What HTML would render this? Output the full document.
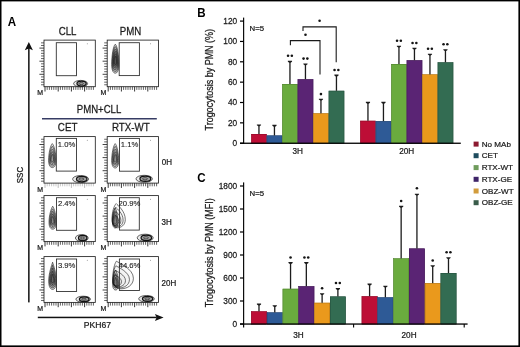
<!DOCTYPE html>
<html><head><meta charset="utf-8"><style>html,body{margin:0;padding:0;background:#fff;overflow:hidden}svg{display:block;will-change:transform}</style></head><body>
<svg width="520" height="347" viewBox="0 0 520 347">
<rect width="520" height="347" fill="#fff"/>
<rect x="0" y="0" width="520" height="1.4" fill="#000"/>
<rect x="0" y="0" width="1.5" height="347" fill="#000"/>
<rect x="518.4" y="0" width="1.6" height="347" fill="#000"/>
<rect x="0" y="345.4" width="520" height="1.6" fill="#000"/>
<text transform="translate(7.70,25.50) scale(1,1.1)" font-size="11.6" font-weight="bold" fill="#000" font-family="Liberation Sans, sans-serif">A</text>
<text transform="translate(67.60,35.00) scale(1,1.17)" font-size="9.7" text-anchor="middle" fill="#1a1a1a" stroke="#1a1a1a" stroke-width="0.22" font-family="Liberation Sans, sans-serif">CLL</text>
<text transform="translate(130.50,35.00) scale(1,1.17)" font-size="9.7" text-anchor="middle" fill="#1a1a1a" stroke="#1a1a1a" stroke-width="0.22" font-family="Liberation Sans, sans-serif">PMN</text>
<text transform="translate(99.00,113.20) scale(1,1.17)" font-size="9.6" text-anchor="middle" fill="#1a1a1a" stroke="#1a1a1a" stroke-width="0.22" font-family="Liberation Sans, sans-serif">PMN+CLL</text>
<rect x="42" y="118" width="114.8" height="1.5" fill="#363c64"/>
<text transform="translate(67.60,131.00) scale(1,1.17)" font-size="9.8" text-anchor="middle" fill="#1a1a1a" stroke="#1a1a1a" stroke-width="0.22" font-family="Liberation Sans, sans-serif">CET</text>
<text transform="translate(130.90,131.00) scale(1,1.17)" font-size="9.8" text-anchor="middle" fill="#1a1a1a" stroke="#1a1a1a" stroke-width="0.22" font-family="Liberation Sans, sans-serif">RTX-WT</text>
<text transform="translate(161.80,165.20) scale(1,1.08)" font-size="8.0" fill="#1a1a1a" stroke="#1a1a1a" stroke-width="0.22" font-family="Liberation Sans, sans-serif">0H</text>
<text transform="translate(161.60,224.50) scale(1,1.08)" font-size="8.0" fill="#1a1a1a" stroke="#1a1a1a" stroke-width="0.22" font-family="Liberation Sans, sans-serif">3H</text>
<text transform="translate(161.60,285.90) scale(1,1.08)" font-size="8.0" fill="#1a1a1a" stroke="#1a1a1a" stroke-width="0.22" font-family="Liberation Sans, sans-serif">20H</text>
<rect x="28.1" y="47" width="1.5" height="255.4" fill="#111"/>
<path d="M28.85 42 L32.9 50.3 L28.85 48.6 L24.8 50.3 Z" fill="#111"/>
<rect x="37.8" y="316.7" width="119" height="1.5" fill="#111"/>
<path d="M163.6 317.45 L154.9 313.9 L156.6 317.45 L154.9 321 Z" fill="#111"/>
<text transform="translate(23.20,175.00) rotate(-90) scale(1,1.17)" font-size="8.0" text-anchor="middle" fill="#1a1a1a" stroke="#1a1a1a" stroke-width="0.22" font-family="Liberation Sans, sans-serif">SSC</text>
<text transform="translate(97.40,328.30) scale(1,1.12)" font-size="8.6" text-anchor="middle" fill="#1a1a1a" stroke="#1a1a1a" stroke-width="0.22" font-family="Liberation Sans, sans-serif">PKH67</text>
<line x1="41.00" y1="84.78" x2="44.00" y2="84.78" stroke="#222" stroke-width="0.7"/>
<line x1="41.00" y1="82.16" x2="44.00" y2="82.16" stroke="#222" stroke-width="0.7"/>
<line x1="41.00" y1="79.54" x2="44.00" y2="79.54" stroke="#222" stroke-width="0.7"/>
<line x1="41.00" y1="76.92" x2="44.00" y2="76.92" stroke="#222" stroke-width="0.7"/>
<line x1="39.40" y1="74.30" x2="44.00" y2="74.30" stroke="#222" stroke-width="0.85"/>
<line x1="41.00" y1="71.68" x2="44.00" y2="71.68" stroke="#222" stroke-width="0.7"/>
<line x1="41.00" y1="69.06" x2="44.00" y2="69.06" stroke="#222" stroke-width="0.7"/>
<line x1="41.00" y1="66.44" x2="44.00" y2="66.44" stroke="#222" stroke-width="0.7"/>
<line x1="41.00" y1="63.82" x2="44.00" y2="63.82" stroke="#222" stroke-width="0.7"/>
<line x1="39.40" y1="61.20" x2="44.00" y2="61.20" stroke="#222" stroke-width="0.85"/>
<line x1="41.00" y1="58.58" x2="44.00" y2="58.58" stroke="#222" stroke-width="0.7"/>
<line x1="41.00" y1="55.96" x2="44.00" y2="55.96" stroke="#222" stroke-width="0.7"/>
<line x1="41.00" y1="53.34" x2="44.00" y2="53.34" stroke="#222" stroke-width="0.7"/>
<line x1="41.00" y1="50.72" x2="44.00" y2="50.72" stroke="#222" stroke-width="0.7"/>
<line x1="39.40" y1="48.10" x2="44.00" y2="48.10" stroke="#222" stroke-width="0.85"/>
<line x1="41.00" y1="45.48" x2="44.00" y2="45.48" stroke="#222" stroke-width="0.7"/>
<line x1="41.00" y1="42.86" x2="44.00" y2="42.86" stroke="#222" stroke-width="0.7"/>
<line x1="45.00" y1="86.70" x2="45.00" y2="91.50" stroke="#222" stroke-width="0.9" stroke-opacity="1.0"/>
<line x1="47.20" y1="86.70" x2="47.20" y2="89.90" stroke="#222" stroke-width="0.7" stroke-opacity="1.0"/>
<line x1="49.40" y1="86.70" x2="49.40" y2="89.90" stroke="#222" stroke-width="0.7" stroke-opacity="1.0"/>
<line x1="51.60" y1="86.70" x2="51.60" y2="89.90" stroke="#222" stroke-width="0.7" stroke-opacity="1.0"/>
<line x1="53.80" y1="86.70" x2="53.80" y2="89.90" stroke="#222" stroke-width="0.7" stroke-opacity="1.0"/>
<line x1="56.00" y1="86.70" x2="56.00" y2="89.90" stroke="#222" stroke-width="0.7" stroke-opacity="1.0"/>
<line x1="58.20" y1="86.70" x2="58.20" y2="91.50" stroke="#222" stroke-width="0.9" stroke-opacity="1.0"/>
<line x1="60.40" y1="86.70" x2="60.40" y2="89.90" stroke="#222" stroke-width="0.7" stroke-opacity="1.0"/>
<line x1="62.60" y1="86.70" x2="62.60" y2="89.90" stroke="#222" stroke-width="0.7" stroke-opacity="1.0"/>
<line x1="64.80" y1="86.70" x2="64.80" y2="89.90" stroke="#222" stroke-width="0.7" stroke-opacity="1.0"/>
<line x1="67.00" y1="86.70" x2="67.00" y2="89.90" stroke="#222" stroke-width="0.7" stroke-opacity="1.0"/>
<line x1="69.20" y1="86.70" x2="69.20" y2="89.90" stroke="#222" stroke-width="0.7" stroke-opacity="1.0"/>
<line x1="71.40" y1="86.70" x2="71.40" y2="91.50" stroke="#222" stroke-width="0.9" stroke-opacity="1.0"/>
<line x1="73.60" y1="86.70" x2="73.60" y2="89.90" stroke="#222" stroke-width="0.7" stroke-opacity="1.0"/>
<line x1="75.80" y1="86.70" x2="75.80" y2="89.90" stroke="#222" stroke-width="0.7" stroke-opacity="1.0"/>
<line x1="78.00" y1="86.70" x2="78.00" y2="89.90" stroke="#222" stroke-width="0.7" stroke-opacity="1.0"/>
<line x1="80.20" y1="86.70" x2="80.20" y2="89.90" stroke="#222" stroke-width="0.7" stroke-opacity="1.0"/>
<line x1="82.40" y1="86.70" x2="82.40" y2="89.90" stroke="#222" stroke-width="0.7" stroke-opacity="1.0"/>
<line x1="84.60" y1="86.70" x2="84.60" y2="91.50" stroke="#222" stroke-width="0.9" stroke-opacity="1.0"/>
<line x1="86.80" y1="86.70" x2="86.80" y2="89.90" stroke="#222" stroke-width="0.7" stroke-opacity="1.0"/>
<line x1="89.00" y1="86.70" x2="89.00" y2="89.90" stroke="#222" stroke-width="0.7" stroke-opacity="1.0"/>
<line x1="91.20" y1="86.70" x2="91.20" y2="89.90" stroke="#222" stroke-width="0.7" stroke-opacity="1.0"/>
<line x1="93.40" y1="86.70" x2="93.40" y2="89.90" stroke="#222" stroke-width="0.7" stroke-opacity="1.0"/>
<rect x="44.00" y="40.10" width="51.30" height="46.60" fill="none" stroke="#222" stroke-width="0.85"/>
<circle cx="87.30" cy="43.70" r="0.5" fill="#888"/>
<ellipse cx="80.60" cy="83.60" rx="7.00" ry="3.20" fill="#000" fill-opacity="0.08" stroke="#222" stroke-width="0.7"/><ellipse cx="81.58" cy="83.60" rx="4.62" ry="2.43" fill="#000" fill-opacity="0.3" stroke="#111" stroke-width="1.25"/><ellipse cx="81.30" cy="83.60" rx="2.10" ry="1.02" fill="none" stroke="#333" stroke-width="0.8"/>
<rect x="56.30" y="42.70" width="20.20" height="33.00" fill="none" stroke="#333" stroke-width="0.9"/>
<text transform="translate(37.20,95.20) scale(1,1.1)" font-size="7.0" fill="#1a1a1a" stroke="#1a1a1a" stroke-width="0.22" font-family="Liberation Sans, sans-serif">M</text>
<line x1="104.20" y1="84.78" x2="107.20" y2="84.78" stroke="#222" stroke-width="0.7"/>
<line x1="104.20" y1="82.16" x2="107.20" y2="82.16" stroke="#222" stroke-width="0.7"/>
<line x1="104.20" y1="79.54" x2="107.20" y2="79.54" stroke="#222" stroke-width="0.7"/>
<line x1="104.20" y1="76.92" x2="107.20" y2="76.92" stroke="#222" stroke-width="0.7"/>
<line x1="102.60" y1="74.30" x2="107.20" y2="74.30" stroke="#222" stroke-width="0.85"/>
<line x1="104.20" y1="71.68" x2="107.20" y2="71.68" stroke="#222" stroke-width="0.7"/>
<line x1="104.20" y1="69.06" x2="107.20" y2="69.06" stroke="#222" stroke-width="0.7"/>
<line x1="104.20" y1="66.44" x2="107.20" y2="66.44" stroke="#222" stroke-width="0.7"/>
<line x1="104.20" y1="63.82" x2="107.20" y2="63.82" stroke="#222" stroke-width="0.7"/>
<line x1="102.60" y1="61.20" x2="107.20" y2="61.20" stroke="#222" stroke-width="0.85"/>
<line x1="104.20" y1="58.58" x2="107.20" y2="58.58" stroke="#222" stroke-width="0.7"/>
<line x1="104.20" y1="55.96" x2="107.20" y2="55.96" stroke="#222" stroke-width="0.7"/>
<line x1="104.20" y1="53.34" x2="107.20" y2="53.34" stroke="#222" stroke-width="0.7"/>
<line x1="104.20" y1="50.72" x2="107.20" y2="50.72" stroke="#222" stroke-width="0.7"/>
<line x1="102.60" y1="48.10" x2="107.20" y2="48.10" stroke="#222" stroke-width="0.85"/>
<line x1="104.20" y1="45.48" x2="107.20" y2="45.48" stroke="#222" stroke-width="0.7"/>
<line x1="104.20" y1="42.86" x2="107.20" y2="42.86" stroke="#222" stroke-width="0.7"/>
<line x1="108.20" y1="86.70" x2="108.20" y2="91.50" stroke="#222" stroke-width="0.9" stroke-opacity="1.0"/>
<line x1="110.40" y1="86.70" x2="110.40" y2="89.90" stroke="#222" stroke-width="0.7" stroke-opacity="1.0"/>
<line x1="112.60" y1="86.70" x2="112.60" y2="89.90" stroke="#222" stroke-width="0.7" stroke-opacity="1.0"/>
<line x1="114.80" y1="86.70" x2="114.80" y2="89.90" stroke="#222" stroke-width="0.7" stroke-opacity="1.0"/>
<line x1="117.00" y1="86.70" x2="117.00" y2="89.90" stroke="#222" stroke-width="0.7" stroke-opacity="1.0"/>
<line x1="119.20" y1="86.70" x2="119.20" y2="89.90" stroke="#222" stroke-width="0.7" stroke-opacity="1.0"/>
<line x1="121.40" y1="86.70" x2="121.40" y2="91.50" stroke="#222" stroke-width="0.9" stroke-opacity="1.0"/>
<line x1="123.60" y1="86.70" x2="123.60" y2="89.90" stroke="#222" stroke-width="0.7" stroke-opacity="1.0"/>
<line x1="125.80" y1="86.70" x2="125.80" y2="89.90" stroke="#222" stroke-width="0.7" stroke-opacity="1.0"/>
<line x1="128.00" y1="86.70" x2="128.00" y2="89.90" stroke="#222" stroke-width="0.7" stroke-opacity="1.0"/>
<line x1="130.20" y1="86.70" x2="130.20" y2="89.90" stroke="#222" stroke-width="0.7" stroke-opacity="1.0"/>
<line x1="132.40" y1="86.70" x2="132.40" y2="89.90" stroke="#222" stroke-width="0.7" stroke-opacity="1.0"/>
<line x1="134.60" y1="86.70" x2="134.60" y2="91.50" stroke="#222" stroke-width="0.9" stroke-opacity="1.0"/>
<line x1="136.80" y1="86.70" x2="136.80" y2="89.90" stroke="#222" stroke-width="0.7" stroke-opacity="1.0"/>
<line x1="139.00" y1="86.70" x2="139.00" y2="89.90" stroke="#222" stroke-width="0.7" stroke-opacity="1.0"/>
<line x1="141.20" y1="86.70" x2="141.20" y2="89.90" stroke="#222" stroke-width="0.7" stroke-opacity="1.0"/>
<line x1="143.40" y1="86.70" x2="143.40" y2="89.90" stroke="#222" stroke-width="0.7" stroke-opacity="1.0"/>
<line x1="145.60" y1="86.70" x2="145.60" y2="89.90" stroke="#222" stroke-width="0.7" stroke-opacity="1.0"/>
<line x1="147.80" y1="86.70" x2="147.80" y2="91.50" stroke="#222" stroke-width="0.9" stroke-opacity="1.0"/>
<line x1="150.00" y1="86.70" x2="150.00" y2="89.90" stroke="#222" stroke-width="0.7" stroke-opacity="1.0"/>
<line x1="152.20" y1="86.70" x2="152.20" y2="89.90" stroke="#222" stroke-width="0.7" stroke-opacity="1.0"/>
<line x1="154.40" y1="86.70" x2="154.40" y2="89.90" stroke="#222" stroke-width="0.7" stroke-opacity="1.0"/>
<line x1="156.60" y1="86.70" x2="156.60" y2="89.90" stroke="#222" stroke-width="0.7" stroke-opacity="1.0"/>
<rect x="107.20" y="40.10" width="51.30" height="46.60" fill="none" stroke="#222" stroke-width="0.85"/>
<circle cx="150.50" cy="43.70" r="0.5" fill="#888"/>
<path d="M115.30 44.20 C117.46 45.94 118.90 55.80 118.90 64.50 C118.90 70.88 117.10 73.20 115.30 73.20 C113.50 73.20 111.70 70.88 111.70 64.50 C111.70 55.80 113.14 45.94 115.30 44.20Z" fill="#000" fill-opacity="0.158" stroke="#1a1a1a" stroke-width="0.6"/><path d="M115.30 46.58 C117.15 48.08 118.39 56.54 118.39 64.01 C118.39 69.48 116.84 71.47 115.30 71.47 C113.75 71.47 112.21 69.48 112.21 64.01 C112.21 56.54 113.45 48.08 115.30 46.58Z" fill="#000" fill-opacity="0.158" stroke="#1a1a1a" stroke-width="0.6"/><path d="M115.30 48.97 C116.85 50.21 117.88 57.28 117.88 63.51 C117.88 68.09 116.59 69.75 115.30 69.75 C114.01 69.75 112.72 68.09 112.72 63.51 C112.72 57.28 113.75 50.21 115.30 48.97Z" fill="#000" fill-opacity="0.158" stroke="#1a1a1a" stroke-width="0.6"/><path d="M115.30 51.35 C116.54 52.35 117.37 58.02 117.37 63.02 C117.37 66.69 116.33 68.02 115.30 68.02 C114.27 68.02 113.23 66.69 113.23 63.02 C113.23 58.02 114.06 52.35 115.30 51.35Z" fill="#000" fill-opacity="0.158" stroke="#1a1a1a" stroke-width="0.6"/><path d="M115.30 53.73 C116.24 54.49 116.86 58.76 116.86 62.53 C116.86 65.29 116.08 66.30 115.30 66.30 C114.52 66.30 113.74 65.29 113.74 62.53 C113.74 58.76 114.36 54.49 115.30 53.73Z" fill="#000" fill-opacity="0.158" stroke="#1a1a1a" stroke-width="0.6"/><path d="M115.30 56.11 C115.93 56.62 116.35 59.50 116.35 62.04 C116.35 63.90 115.83 64.57 115.30 64.57 C114.77 64.57 114.25 63.90 114.25 62.04 C114.25 59.50 114.67 56.62 115.30 56.11Z" fill="#000" fill-opacity="0.158" stroke="#1a1a1a" stroke-width="0.6"/>
<rect x="119.20" y="42.70" width="20.20" height="32.90" fill="none" stroke="#333" stroke-width="0.9"/>
<text transform="translate(100.40,95.20) scale(1,1.1)" font-size="7.0" fill="#1a1a1a" stroke="#1a1a1a" stroke-width="0.22" font-family="Liberation Sans, sans-serif">M</text>
<line x1="41.00" y1="181.18" x2="44.00" y2="181.18" stroke="#222" stroke-width="0.7"/>
<line x1="41.00" y1="178.56" x2="44.00" y2="178.56" stroke="#222" stroke-width="0.7"/>
<line x1="41.00" y1="175.94" x2="44.00" y2="175.94" stroke="#222" stroke-width="0.7"/>
<line x1="41.00" y1="173.32" x2="44.00" y2="173.32" stroke="#222" stroke-width="0.7"/>
<line x1="39.40" y1="170.70" x2="44.00" y2="170.70" stroke="#222" stroke-width="0.85"/>
<line x1="41.00" y1="168.08" x2="44.00" y2="168.08" stroke="#222" stroke-width="0.7"/>
<line x1="41.00" y1="165.46" x2="44.00" y2="165.46" stroke="#222" stroke-width="0.7"/>
<line x1="41.00" y1="162.84" x2="44.00" y2="162.84" stroke="#222" stroke-width="0.7"/>
<line x1="41.00" y1="160.22" x2="44.00" y2="160.22" stroke="#222" stroke-width="0.7"/>
<line x1="39.40" y1="157.60" x2="44.00" y2="157.60" stroke="#222" stroke-width="0.85"/>
<line x1="41.00" y1="154.98" x2="44.00" y2="154.98" stroke="#222" stroke-width="0.7"/>
<line x1="41.00" y1="152.36" x2="44.00" y2="152.36" stroke="#222" stroke-width="0.7"/>
<line x1="41.00" y1="149.74" x2="44.00" y2="149.74" stroke="#222" stroke-width="0.7"/>
<line x1="41.00" y1="147.12" x2="44.00" y2="147.12" stroke="#222" stroke-width="0.7"/>
<line x1="39.40" y1="144.50" x2="44.00" y2="144.50" stroke="#222" stroke-width="0.85"/>
<line x1="41.00" y1="141.88" x2="44.00" y2="141.88" stroke="#222" stroke-width="0.7"/>
<line x1="41.00" y1="139.26" x2="44.00" y2="139.26" stroke="#222" stroke-width="0.7"/>
<line x1="45.00" y1="183.10" x2="45.00" y2="187.90" stroke="#222" stroke-width="0.9" stroke-opacity="0.35"/>
<line x1="47.20" y1="183.10" x2="47.20" y2="186.30" stroke="#222" stroke-width="0.7" stroke-opacity="0.35"/>
<line x1="49.40" y1="183.10" x2="49.40" y2="186.30" stroke="#222" stroke-width="0.7" stroke-opacity="0.35"/>
<line x1="51.60" y1="183.10" x2="51.60" y2="186.30" stroke="#222" stroke-width="0.7" stroke-opacity="0.35"/>
<line x1="53.80" y1="183.10" x2="53.80" y2="186.30" stroke="#222" stroke-width="0.7" stroke-opacity="0.35"/>
<line x1="56.00" y1="183.10" x2="56.00" y2="186.30" stroke="#222" stroke-width="0.7" stroke-opacity="0.35"/>
<line x1="58.20" y1="183.10" x2="58.20" y2="187.90" stroke="#222" stroke-width="0.9" stroke-opacity="0.35"/>
<line x1="60.40" y1="183.10" x2="60.40" y2="186.30" stroke="#222" stroke-width="0.7" stroke-opacity="0.35"/>
<line x1="62.60" y1="183.10" x2="62.60" y2="186.30" stroke="#222" stroke-width="0.7" stroke-opacity="0.35"/>
<line x1="64.80" y1="183.10" x2="64.80" y2="186.30" stroke="#222" stroke-width="0.7" stroke-opacity="0.35"/>
<line x1="67.00" y1="183.10" x2="67.00" y2="186.30" stroke="#222" stroke-width="0.7" stroke-opacity="0.35"/>
<line x1="69.20" y1="183.10" x2="69.20" y2="186.30" stroke="#222" stroke-width="0.7" stroke-opacity="0.35"/>
<line x1="71.40" y1="183.10" x2="71.40" y2="187.90" stroke="#222" stroke-width="0.9" stroke-opacity="0.35"/>
<line x1="73.60" y1="183.10" x2="73.60" y2="186.30" stroke="#222" stroke-width="0.7" stroke-opacity="0.35"/>
<line x1="75.80" y1="183.10" x2="75.80" y2="186.30" stroke="#222" stroke-width="0.7" stroke-opacity="0.35"/>
<line x1="78.00" y1="183.10" x2="78.00" y2="186.30" stroke="#222" stroke-width="0.7" stroke-opacity="0.35"/>
<line x1="80.20" y1="183.10" x2="80.20" y2="186.30" stroke="#222" stroke-width="0.7" stroke-opacity="0.35"/>
<line x1="82.40" y1="183.10" x2="82.40" y2="186.30" stroke="#222" stroke-width="0.7" stroke-opacity="0.35"/>
<line x1="84.60" y1="183.10" x2="84.60" y2="187.90" stroke="#222" stroke-width="0.9" stroke-opacity="0.35"/>
<line x1="86.80" y1="183.10" x2="86.80" y2="186.30" stroke="#222" stroke-width="0.7" stroke-opacity="0.35"/>
<line x1="89.00" y1="183.10" x2="89.00" y2="186.30" stroke="#222" stroke-width="0.7" stroke-opacity="0.35"/>
<line x1="91.20" y1="183.10" x2="91.20" y2="186.30" stroke="#222" stroke-width="0.7" stroke-opacity="0.35"/>
<line x1="93.40" y1="183.10" x2="93.40" y2="186.30" stroke="#222" stroke-width="0.7" stroke-opacity="0.35"/>
<rect x="44.00" y="136.60" width="51.30" height="46.50" fill="none" stroke="#222" stroke-width="0.85"/>
<circle cx="87.30" cy="140.20" r="0.5" fill="#888"/>
<path d="M52.30 143.60 C54.19 145.40 56.00 153.20 56.00 160.40 C56.00 165.68 54.15 167.60 52.30 167.60 C50.45 167.60 48.60 165.68 48.60 160.40 C48.60 153.20 50.41 145.40 52.30 143.60Z" fill="#000" fill-opacity="0.090" stroke="#1a1a1a" stroke-width="0.6"/><path d="M52.30 146.25 C53.87 147.75 55.37 154.22 55.37 160.20 C55.37 164.58 53.84 166.17 52.30 166.17 C50.76 166.17 49.23 164.58 49.23 160.20 C49.23 154.22 50.73 147.75 52.30 146.25Z" fill="#000" fill-opacity="0.090" stroke="#1a1a1a" stroke-width="0.6"/><path d="M52.30 148.90 C53.55 150.09 54.74 155.24 54.74 159.99 C54.74 163.48 53.52 164.74 52.30 164.74 C51.08 164.74 49.86 163.48 49.86 159.99 C49.86 155.24 51.05 150.09 52.30 148.90Z" fill="#000" fill-opacity="0.090" stroke="#1a1a1a" stroke-width="0.6"/><path d="M52.30 151.56 C53.22 152.44 54.11 156.26 54.11 159.79 C54.11 162.38 53.21 163.32 52.30 163.32 C51.39 163.32 50.49 162.38 50.49 159.79 C50.49 156.26 51.38 152.44 52.30 151.56Z" fill="#000" fill-opacity="0.090" stroke="#1a1a1a" stroke-width="0.6"/><path d="M52.30 154.21 C52.90 154.78 53.48 157.28 53.48 159.58 C53.48 161.27 52.89 161.89 52.30 161.89 C51.71 161.89 51.12 161.27 51.12 159.58 C51.12 157.28 51.70 154.78 52.30 154.21Z" fill="#000" fill-opacity="0.090" stroke="#1a1a1a" stroke-width="0.6"/>
<ellipse cx="80.60" cy="179.10" rx="8.00" ry="3.60" fill="#000" fill-opacity="0.08" stroke="#222" stroke-width="0.7"/><ellipse cx="81.72" cy="179.10" rx="5.28" ry="2.74" fill="#000" fill-opacity="0.3" stroke="#111" stroke-width="1.25"/><ellipse cx="81.40" cy="179.10" rx="2.40" ry="1.15" fill="none" stroke="#333" stroke-width="0.8"/>
<rect x="56.30" y="138.40" width="20.20" height="32.70" fill="none" stroke="#333" stroke-width="0.9"/>
<text transform="translate(66.50,146.90)" font-size="7.7" text-anchor="middle" fill="#1a1a1a" stroke="#1a1a1a" stroke-width="0.1" font-family="Liberation Sans, sans-serif">1.0%</text>
<text transform="translate(37.20,191.60) scale(1,1.1)" font-size="7.0" fill="#1a1a1a" stroke="#1a1a1a" stroke-width="0.22" font-family="Liberation Sans, sans-serif">M</text>
<line x1="104.20" y1="181.18" x2="107.20" y2="181.18" stroke="#222" stroke-width="0.7"/>
<line x1="104.20" y1="178.56" x2="107.20" y2="178.56" stroke="#222" stroke-width="0.7"/>
<line x1="104.20" y1="175.94" x2="107.20" y2="175.94" stroke="#222" stroke-width="0.7"/>
<line x1="104.20" y1="173.32" x2="107.20" y2="173.32" stroke="#222" stroke-width="0.7"/>
<line x1="102.60" y1="170.70" x2="107.20" y2="170.70" stroke="#222" stroke-width="0.85"/>
<line x1="104.20" y1="168.08" x2="107.20" y2="168.08" stroke="#222" stroke-width="0.7"/>
<line x1="104.20" y1="165.46" x2="107.20" y2="165.46" stroke="#222" stroke-width="0.7"/>
<line x1="104.20" y1="162.84" x2="107.20" y2="162.84" stroke="#222" stroke-width="0.7"/>
<line x1="104.20" y1="160.22" x2="107.20" y2="160.22" stroke="#222" stroke-width="0.7"/>
<line x1="102.60" y1="157.60" x2="107.20" y2="157.60" stroke="#222" stroke-width="0.85"/>
<line x1="104.20" y1="154.98" x2="107.20" y2="154.98" stroke="#222" stroke-width="0.7"/>
<line x1="104.20" y1="152.36" x2="107.20" y2="152.36" stroke="#222" stroke-width="0.7"/>
<line x1="104.20" y1="149.74" x2="107.20" y2="149.74" stroke="#222" stroke-width="0.7"/>
<line x1="104.20" y1="147.12" x2="107.20" y2="147.12" stroke="#222" stroke-width="0.7"/>
<line x1="102.60" y1="144.50" x2="107.20" y2="144.50" stroke="#222" stroke-width="0.85"/>
<line x1="104.20" y1="141.88" x2="107.20" y2="141.88" stroke="#222" stroke-width="0.7"/>
<line x1="104.20" y1="139.26" x2="107.20" y2="139.26" stroke="#222" stroke-width="0.7"/>
<line x1="108.20" y1="183.10" x2="108.20" y2="187.90" stroke="#222" stroke-width="0.9" stroke-opacity="1.0"/>
<line x1="110.40" y1="183.10" x2="110.40" y2="186.30" stroke="#222" stroke-width="0.7" stroke-opacity="1.0"/>
<line x1="112.60" y1="183.10" x2="112.60" y2="186.30" stroke="#222" stroke-width="0.7" stroke-opacity="1.0"/>
<line x1="114.80" y1="183.10" x2="114.80" y2="186.30" stroke="#222" stroke-width="0.7" stroke-opacity="1.0"/>
<line x1="117.00" y1="183.10" x2="117.00" y2="186.30" stroke="#222" stroke-width="0.7" stroke-opacity="1.0"/>
<line x1="119.20" y1="183.10" x2="119.20" y2="186.30" stroke="#222" stroke-width="0.7" stroke-opacity="1.0"/>
<line x1="121.40" y1="183.10" x2="121.40" y2="187.90" stroke="#222" stroke-width="0.9" stroke-opacity="1.0"/>
<line x1="123.60" y1="183.10" x2="123.60" y2="186.30" stroke="#222" stroke-width="0.7" stroke-opacity="1.0"/>
<line x1="125.80" y1="183.10" x2="125.80" y2="186.30" stroke="#222" stroke-width="0.7" stroke-opacity="1.0"/>
<line x1="128.00" y1="183.10" x2="128.00" y2="186.30" stroke="#222" stroke-width="0.7" stroke-opacity="1.0"/>
<line x1="130.20" y1="183.10" x2="130.20" y2="186.30" stroke="#222" stroke-width="0.7" stroke-opacity="1.0"/>
<line x1="132.40" y1="183.10" x2="132.40" y2="186.30" stroke="#222" stroke-width="0.7" stroke-opacity="1.0"/>
<line x1="134.60" y1="183.10" x2="134.60" y2="187.90" stroke="#222" stroke-width="0.9" stroke-opacity="1.0"/>
<line x1="136.80" y1="183.10" x2="136.80" y2="186.30" stroke="#222" stroke-width="0.7" stroke-opacity="1.0"/>
<line x1="139.00" y1="183.10" x2="139.00" y2="186.30" stroke="#222" stroke-width="0.7" stroke-opacity="1.0"/>
<line x1="141.20" y1="183.10" x2="141.20" y2="186.30" stroke="#222" stroke-width="0.7" stroke-opacity="1.0"/>
<line x1="143.40" y1="183.10" x2="143.40" y2="186.30" stroke="#222" stroke-width="0.7" stroke-opacity="1.0"/>
<line x1="145.60" y1="183.10" x2="145.60" y2="186.30" stroke="#222" stroke-width="0.7" stroke-opacity="1.0"/>
<line x1="147.80" y1="183.10" x2="147.80" y2="187.90" stroke="#222" stroke-width="0.9" stroke-opacity="1.0"/>
<line x1="150.00" y1="183.10" x2="150.00" y2="186.30" stroke="#222" stroke-width="0.7" stroke-opacity="1.0"/>
<line x1="152.20" y1="183.10" x2="152.20" y2="186.30" stroke="#222" stroke-width="0.7" stroke-opacity="1.0"/>
<line x1="154.40" y1="183.10" x2="154.40" y2="186.30" stroke="#222" stroke-width="0.7" stroke-opacity="1.0"/>
<line x1="156.60" y1="183.10" x2="156.60" y2="186.30" stroke="#222" stroke-width="0.7" stroke-opacity="1.0"/>
<rect x="107.20" y="136.60" width="51.30" height="46.50" fill="none" stroke="#222" stroke-width="0.85"/>
<circle cx="150.50" cy="140.20" r="0.5" fill="#888"/>
<path d="M115.20 143.60 C116.98 145.43 118.70 153.36 118.70 160.68 C118.70 166.05 116.95 168.00 115.20 168.00 C113.45 168.00 111.70 166.05 111.70 160.68 C111.70 153.36 113.42 145.43 115.20 143.60Z" fill="#000" fill-opacity="0.090" stroke="#1a1a1a" stroke-width="0.6"/><path d="M115.20 146.30 C116.68 147.82 118.11 154.40 118.11 160.47 C118.11 164.93 116.65 166.55 115.20 166.55 C113.75 166.55 112.30 164.93 112.30 160.47 C112.30 154.40 113.72 147.82 115.20 146.30Z" fill="#000" fill-opacity="0.090" stroke="#1a1a1a" stroke-width="0.6"/><path d="M115.20 148.99 C116.38 150.20 117.51 155.43 117.51 160.27 C117.51 163.81 116.36 165.10 115.20 165.10 C114.05 165.10 112.89 163.81 112.89 160.27 C112.89 155.43 114.02 150.20 115.20 148.99Z" fill="#000" fill-opacity="0.090" stroke="#1a1a1a" stroke-width="0.6"/><path d="M115.20 151.69 C116.07 152.59 116.92 156.47 116.92 160.06 C116.92 162.69 116.06 163.64 115.20 163.64 C114.34 163.64 113.48 162.69 113.48 160.06 C113.48 156.47 114.33 152.59 115.20 151.69Z" fill="#000" fill-opacity="0.090" stroke="#1a1a1a" stroke-width="0.6"/><path d="M115.20 154.38 C115.77 154.97 116.32 157.51 116.32 159.85 C116.32 161.57 115.76 162.19 115.20 162.19 C114.64 162.19 114.08 161.57 114.08 159.85 C114.08 157.51 114.63 154.97 115.20 154.38Z" fill="#000" fill-opacity="0.090" stroke="#1a1a1a" stroke-width="0.6"/>
<ellipse cx="144.20" cy="178.80" rx="8.20" ry="3.50" fill="#000" fill-opacity="0.08" stroke="#222" stroke-width="0.7"/><ellipse cx="145.35" cy="178.80" rx="5.41" ry="2.66" fill="#000" fill-opacity="0.3" stroke="#111" stroke-width="1.25"/><ellipse cx="145.02" cy="178.80" rx="2.46" ry="1.12" fill="none" stroke="#333" stroke-width="0.8"/>
<rect x="119.50" y="138.40" width="19.90" height="32.80" fill="none" stroke="#333" stroke-width="0.9"/>
<text transform="translate(129.55,146.90)" font-size="7.7" text-anchor="middle" fill="#1a1a1a" stroke="#1a1a1a" stroke-width="0.1" font-family="Liberation Sans, sans-serif">1.1%</text>
<text transform="translate(100.40,191.60) scale(1,1.1)" font-size="7.0" fill="#1a1a1a" stroke="#1a1a1a" stroke-width="0.22" font-family="Liberation Sans, sans-serif">M</text>
<line x1="41.00" y1="239.68" x2="44.00" y2="239.68" stroke="#222" stroke-width="0.7"/>
<line x1="41.00" y1="237.06" x2="44.00" y2="237.06" stroke="#222" stroke-width="0.7"/>
<line x1="41.00" y1="234.44" x2="44.00" y2="234.44" stroke="#222" stroke-width="0.7"/>
<line x1="41.00" y1="231.82" x2="44.00" y2="231.82" stroke="#222" stroke-width="0.7"/>
<line x1="39.40" y1="229.20" x2="44.00" y2="229.20" stroke="#222" stroke-width="0.85"/>
<line x1="41.00" y1="226.58" x2="44.00" y2="226.58" stroke="#222" stroke-width="0.7"/>
<line x1="41.00" y1="223.96" x2="44.00" y2="223.96" stroke="#222" stroke-width="0.7"/>
<line x1="41.00" y1="221.34" x2="44.00" y2="221.34" stroke="#222" stroke-width="0.7"/>
<line x1="41.00" y1="218.72" x2="44.00" y2="218.72" stroke="#222" stroke-width="0.7"/>
<line x1="39.40" y1="216.10" x2="44.00" y2="216.10" stroke="#222" stroke-width="0.85"/>
<line x1="41.00" y1="213.48" x2="44.00" y2="213.48" stroke="#222" stroke-width="0.7"/>
<line x1="41.00" y1="210.86" x2="44.00" y2="210.86" stroke="#222" stroke-width="0.7"/>
<line x1="41.00" y1="208.24" x2="44.00" y2="208.24" stroke="#222" stroke-width="0.7"/>
<line x1="41.00" y1="205.62" x2="44.00" y2="205.62" stroke="#222" stroke-width="0.7"/>
<line x1="39.40" y1="203.00" x2="44.00" y2="203.00" stroke="#222" stroke-width="0.85"/>
<line x1="41.00" y1="200.38" x2="44.00" y2="200.38" stroke="#222" stroke-width="0.7"/>
<line x1="41.00" y1="197.76" x2="44.00" y2="197.76" stroke="#222" stroke-width="0.7"/>
<line x1="45.00" y1="241.60" x2="45.00" y2="246.40" stroke="#222" stroke-width="0.9" stroke-opacity="1.0"/>
<line x1="47.20" y1="241.60" x2="47.20" y2="244.80" stroke="#222" stroke-width="0.7" stroke-opacity="1.0"/>
<line x1="49.40" y1="241.60" x2="49.40" y2="244.80" stroke="#222" stroke-width="0.7" stroke-opacity="1.0"/>
<line x1="51.60" y1="241.60" x2="51.60" y2="244.80" stroke="#222" stroke-width="0.7" stroke-opacity="1.0"/>
<line x1="53.80" y1="241.60" x2="53.80" y2="244.80" stroke="#222" stroke-width="0.7" stroke-opacity="1.0"/>
<line x1="56.00" y1="241.60" x2="56.00" y2="244.80" stroke="#222" stroke-width="0.7" stroke-opacity="1.0"/>
<line x1="58.20" y1="241.60" x2="58.20" y2="246.40" stroke="#222" stroke-width="0.9" stroke-opacity="1.0"/>
<line x1="60.40" y1="241.60" x2="60.40" y2="244.80" stroke="#222" stroke-width="0.7" stroke-opacity="1.0"/>
<line x1="62.60" y1="241.60" x2="62.60" y2="244.80" stroke="#222" stroke-width="0.7" stroke-opacity="1.0"/>
<line x1="64.80" y1="241.60" x2="64.80" y2="244.80" stroke="#222" stroke-width="0.7" stroke-opacity="1.0"/>
<line x1="67.00" y1="241.60" x2="67.00" y2="244.80" stroke="#222" stroke-width="0.7" stroke-opacity="1.0"/>
<line x1="69.20" y1="241.60" x2="69.20" y2="244.80" stroke="#222" stroke-width="0.7" stroke-opacity="1.0"/>
<line x1="71.40" y1="241.60" x2="71.40" y2="246.40" stroke="#222" stroke-width="0.9" stroke-opacity="1.0"/>
<line x1="73.60" y1="241.60" x2="73.60" y2="244.80" stroke="#222" stroke-width="0.7" stroke-opacity="1.0"/>
<line x1="75.80" y1="241.60" x2="75.80" y2="244.80" stroke="#222" stroke-width="0.7" stroke-opacity="1.0"/>
<line x1="78.00" y1="241.60" x2="78.00" y2="244.80" stroke="#222" stroke-width="0.7" stroke-opacity="1.0"/>
<line x1="80.20" y1="241.60" x2="80.20" y2="244.80" stroke="#222" stroke-width="0.7" stroke-opacity="1.0"/>
<line x1="82.40" y1="241.60" x2="82.40" y2="244.80" stroke="#222" stroke-width="0.7" stroke-opacity="1.0"/>
<line x1="84.60" y1="241.60" x2="84.60" y2="246.40" stroke="#222" stroke-width="0.9" stroke-opacity="1.0"/>
<line x1="86.80" y1="241.60" x2="86.80" y2="244.80" stroke="#222" stroke-width="0.7" stroke-opacity="1.0"/>
<line x1="89.00" y1="241.60" x2="89.00" y2="244.80" stroke="#222" stroke-width="0.7" stroke-opacity="1.0"/>
<line x1="91.20" y1="241.60" x2="91.20" y2="244.80" stroke="#222" stroke-width="0.7" stroke-opacity="1.0"/>
<line x1="93.40" y1="241.60" x2="93.40" y2="244.80" stroke="#222" stroke-width="0.7" stroke-opacity="1.0"/>
<rect x="44.00" y="195.60" width="51.30" height="46.00" fill="none" stroke="#222" stroke-width="0.85"/>
<circle cx="87.30" cy="199.20" r="0.5" fill="#888"/>
<path d="M52.70 206.20 C54.25 208.27 56.40 215.40 56.40 222.30 C56.40 227.36 54.55 229.20 52.70 229.20 C50.85 229.20 49.00 227.36 49.00 222.30 C49.00 215.40 51.15 208.27 52.70 206.20Z" fill="#000" fill-opacity="0.110" stroke="#1a1a1a" stroke-width="0.6"/><path d="M52.70 208.74 C53.99 210.46 55.77 216.38 55.77 222.10 C55.77 226.30 54.24 227.83 52.70 227.83 C51.16 227.83 49.63 226.30 49.63 222.10 C49.63 216.38 51.41 210.46 52.70 208.74Z" fill="#000" fill-opacity="0.110" stroke="#1a1a1a" stroke-width="0.6"/><path d="M52.70 211.28 C53.73 212.65 55.14 217.35 55.14 221.91 C55.14 225.25 53.92 226.46 52.70 226.46 C51.48 226.46 50.26 225.25 50.26 221.91 C50.26 217.35 51.67 212.65 52.70 211.28Z" fill="#000" fill-opacity="0.110" stroke="#1a1a1a" stroke-width="0.6"/><path d="M52.70 213.82 C53.46 214.84 54.51 218.33 54.51 221.71 C54.51 224.19 53.61 225.09 52.70 225.09 C51.79 225.09 50.89 224.19 50.89 221.71 C50.89 218.33 51.94 214.84 52.70 213.82Z" fill="#000" fill-opacity="0.110" stroke="#1a1a1a" stroke-width="0.6"/><path d="M52.70 216.37 C53.20 217.03 53.88 219.31 53.88 221.52 C53.88 223.14 53.29 223.73 52.70 223.73 C52.11 223.73 51.52 223.14 51.52 221.52 C51.52 219.31 52.20 217.03 52.70 216.37Z" fill="#000" fill-opacity="0.110" stroke="#1a1a1a" stroke-width="0.6"/>
<ellipse cx="81.80" cy="238.00" rx="6.40" ry="3.40" fill="#000" fill-opacity="0.08" stroke="#222" stroke-width="0.7"/><ellipse cx="82.70" cy="238.00" rx="4.22" ry="2.58" fill="#000" fill-opacity="0.3" stroke="#111" stroke-width="1.25"/><ellipse cx="82.44" cy="238.00" rx="1.92" ry="1.09" fill="none" stroke="#333" stroke-width="0.8"/>
<rect x="56.50" y="197.70" width="20.10" height="32.60" fill="none" stroke="#333" stroke-width="0.9"/>
<text transform="translate(66.65,206.20)" font-size="7.7" text-anchor="middle" fill="#1a1a1a" stroke="#1a1a1a" stroke-width="0.1" font-family="Liberation Sans, sans-serif">2.4%</text>
<text transform="translate(37.20,250.10) scale(1,1.1)" font-size="7.0" fill="#1a1a1a" stroke="#1a1a1a" stroke-width="0.22" font-family="Liberation Sans, sans-serif">M</text>
<line x1="104.20" y1="239.68" x2="107.20" y2="239.68" stroke="#222" stroke-width="0.7"/>
<line x1="104.20" y1="237.06" x2="107.20" y2="237.06" stroke="#222" stroke-width="0.7"/>
<line x1="104.20" y1="234.44" x2="107.20" y2="234.44" stroke="#222" stroke-width="0.7"/>
<line x1="104.20" y1="231.82" x2="107.20" y2="231.82" stroke="#222" stroke-width="0.7"/>
<line x1="102.60" y1="229.20" x2="107.20" y2="229.20" stroke="#222" stroke-width="0.85"/>
<line x1="104.20" y1="226.58" x2="107.20" y2="226.58" stroke="#222" stroke-width="0.7"/>
<line x1="104.20" y1="223.96" x2="107.20" y2="223.96" stroke="#222" stroke-width="0.7"/>
<line x1="104.20" y1="221.34" x2="107.20" y2="221.34" stroke="#222" stroke-width="0.7"/>
<line x1="104.20" y1="218.72" x2="107.20" y2="218.72" stroke="#222" stroke-width="0.7"/>
<line x1="102.60" y1="216.10" x2="107.20" y2="216.10" stroke="#222" stroke-width="0.85"/>
<line x1="104.20" y1="213.48" x2="107.20" y2="213.48" stroke="#222" stroke-width="0.7"/>
<line x1="104.20" y1="210.86" x2="107.20" y2="210.86" stroke="#222" stroke-width="0.7"/>
<line x1="104.20" y1="208.24" x2="107.20" y2="208.24" stroke="#222" stroke-width="0.7"/>
<line x1="104.20" y1="205.62" x2="107.20" y2="205.62" stroke="#222" stroke-width="0.7"/>
<line x1="102.60" y1="203.00" x2="107.20" y2="203.00" stroke="#222" stroke-width="0.85"/>
<line x1="104.20" y1="200.38" x2="107.20" y2="200.38" stroke="#222" stroke-width="0.7"/>
<line x1="104.20" y1="197.76" x2="107.20" y2="197.76" stroke="#222" stroke-width="0.7"/>
<line x1="108.20" y1="241.60" x2="108.20" y2="246.40" stroke="#222" stroke-width="0.9" stroke-opacity="1.0"/>
<line x1="110.40" y1="241.60" x2="110.40" y2="244.80" stroke="#222" stroke-width="0.7" stroke-opacity="1.0"/>
<line x1="112.60" y1="241.60" x2="112.60" y2="244.80" stroke="#222" stroke-width="0.7" stroke-opacity="1.0"/>
<line x1="114.80" y1="241.60" x2="114.80" y2="244.80" stroke="#222" stroke-width="0.7" stroke-opacity="1.0"/>
<line x1="117.00" y1="241.60" x2="117.00" y2="244.80" stroke="#222" stroke-width="0.7" stroke-opacity="1.0"/>
<line x1="119.20" y1="241.60" x2="119.20" y2="244.80" stroke="#222" stroke-width="0.7" stroke-opacity="1.0"/>
<line x1="121.40" y1="241.60" x2="121.40" y2="246.40" stroke="#222" stroke-width="0.9" stroke-opacity="1.0"/>
<line x1="123.60" y1="241.60" x2="123.60" y2="244.80" stroke="#222" stroke-width="0.7" stroke-opacity="1.0"/>
<line x1="125.80" y1="241.60" x2="125.80" y2="244.80" stroke="#222" stroke-width="0.7" stroke-opacity="1.0"/>
<line x1="128.00" y1="241.60" x2="128.00" y2="244.80" stroke="#222" stroke-width="0.7" stroke-opacity="1.0"/>
<line x1="130.20" y1="241.60" x2="130.20" y2="244.80" stroke="#222" stroke-width="0.7" stroke-opacity="1.0"/>
<line x1="132.40" y1="241.60" x2="132.40" y2="244.80" stroke="#222" stroke-width="0.7" stroke-opacity="1.0"/>
<line x1="134.60" y1="241.60" x2="134.60" y2="246.40" stroke="#222" stroke-width="0.9" stroke-opacity="1.0"/>
<line x1="136.80" y1="241.60" x2="136.80" y2="244.80" stroke="#222" stroke-width="0.7" stroke-opacity="1.0"/>
<line x1="139.00" y1="241.60" x2="139.00" y2="244.80" stroke="#222" stroke-width="0.7" stroke-opacity="1.0"/>
<line x1="141.20" y1="241.60" x2="141.20" y2="244.80" stroke="#222" stroke-width="0.7" stroke-opacity="1.0"/>
<line x1="143.40" y1="241.60" x2="143.40" y2="244.80" stroke="#222" stroke-width="0.7" stroke-opacity="1.0"/>
<line x1="145.60" y1="241.60" x2="145.60" y2="244.80" stroke="#222" stroke-width="0.7" stroke-opacity="1.0"/>
<line x1="147.80" y1="241.60" x2="147.80" y2="246.40" stroke="#222" stroke-width="0.9" stroke-opacity="1.0"/>
<line x1="150.00" y1="241.60" x2="150.00" y2="244.80" stroke="#222" stroke-width="0.7" stroke-opacity="1.0"/>
<line x1="152.20" y1="241.60" x2="152.20" y2="244.80" stroke="#222" stroke-width="0.7" stroke-opacity="1.0"/>
<line x1="154.40" y1="241.60" x2="154.40" y2="244.80" stroke="#222" stroke-width="0.7" stroke-opacity="1.0"/>
<line x1="156.60" y1="241.60" x2="156.60" y2="244.80" stroke="#222" stroke-width="0.7" stroke-opacity="1.0"/>
<rect x="107.20" y="195.60" width="51.30" height="46.00" fill="none" stroke="#222" stroke-width="0.85"/>
<circle cx="150.50" cy="199.20" r="0.5" fill="#888"/>
<path d="M116.20 203.60 C117.56 205.20 125.30 210.80 125.30 219.60 C125.30 225.34 120.84 227.80 117.20 227.80 C114.08 227.80 112.00 224.48 112.00 219.50 C112.00 211.55 114.10 205.51 116.20 203.60Z" fill="#000" fill-opacity="0.025" stroke="#1a1a1a" stroke-width="0.6"/><path d="M115.71 207.24 C116.82 208.54 123.11 213.09 123.11 220.24 C123.11 224.90 119.49 226.90 116.53 226.90 C113.99 226.90 112.30 224.20 112.30 220.16 C112.30 213.70 114.01 208.79 115.71 207.24Z" fill="#000" fill-opacity="0.025" stroke="#1a1a1a" stroke-width="0.6"/><path d="M115.22 210.88 C116.08 211.88 120.91 215.38 120.91 220.88 C120.91 224.46 118.13 226.00 115.85 226.00 C113.90 226.00 112.60 223.93 112.60 220.81 C112.60 215.84 113.91 212.07 115.22 210.88Z" fill="#000" fill-opacity="0.025" stroke="#1a1a1a" stroke-width="0.6"/><path d="M114.74 214.51 C115.33 215.21 118.72 217.66 118.72 221.51 C118.72 224.02 116.77 225.10 115.17 225.10 C113.81 225.10 112.90 223.65 112.90 221.47 C112.90 217.99 113.82 215.35 114.74 214.51Z" fill="#000" fill-opacity="0.025" stroke="#1a1a1a" stroke-width="0.6"/>
<path d="M115.20 208.00 C116.33 209.80 117.90 216.00 117.90 222.00 C117.90 226.40 116.55 228.00 115.20 228.00 C113.85 228.00 112.50 226.40 112.50 222.00 C112.50 216.00 114.07 209.80 115.20 208.00Z" fill="#000" fill-opacity="0.150" stroke="#1a1a1a" stroke-width="0.6"/><path d="M115.20 211.68 C116.01 212.97 117.14 217.42 117.14 221.72 C117.14 224.87 116.17 226.02 115.20 226.02 C114.23 226.02 113.27 224.87 113.27 221.72 C113.27 217.42 114.39 212.97 115.20 211.68Z" fill="#000" fill-opacity="0.150" stroke="#1a1a1a" stroke-width="0.6"/><path d="M115.20 215.37 C115.69 216.15 116.37 218.83 116.37 221.43 C116.37 223.34 115.78 224.03 115.20 224.03 C114.62 224.03 114.03 223.34 114.03 221.43 C114.03 218.83 114.71 216.15 115.20 215.37Z" fill="#000" fill-opacity="0.150" stroke="#1a1a1a" stroke-width="0.6"/>
<ellipse cx="145.20" cy="237.80" rx="8.00" ry="3.60" fill="#000" fill-opacity="0.08" stroke="#222" stroke-width="0.7"/><ellipse cx="146.32" cy="237.80" rx="5.28" ry="2.74" fill="#000" fill-opacity="0.3" stroke="#111" stroke-width="1.25"/><ellipse cx="146.00" cy="237.80" rx="2.40" ry="1.15" fill="none" stroke="#333" stroke-width="0.8"/>
<rect x="119.50" y="197.70" width="19.80" height="32.40" fill="none" stroke="#333" stroke-width="0.9"/>
<text transform="translate(129.50,206.20)" font-size="7.7" text-anchor="middle" fill="#1a1a1a" stroke="#1a1a1a" stroke-width="0.1" font-family="Liberation Sans, sans-serif">20.9%</text>
<text transform="translate(100.40,250.10) scale(1,1.1)" font-size="7.0" fill="#1a1a1a" stroke="#1a1a1a" stroke-width="0.22" font-family="Liberation Sans, sans-serif">M</text>
<line x1="41.00" y1="300.48" x2="44.00" y2="300.48" stroke="#222" stroke-width="0.7"/>
<line x1="41.00" y1="297.86" x2="44.00" y2="297.86" stroke="#222" stroke-width="0.7"/>
<line x1="41.00" y1="295.24" x2="44.00" y2="295.24" stroke="#222" stroke-width="0.7"/>
<line x1="41.00" y1="292.62" x2="44.00" y2="292.62" stroke="#222" stroke-width="0.7"/>
<line x1="39.40" y1="290.00" x2="44.00" y2="290.00" stroke="#222" stroke-width="0.85"/>
<line x1="41.00" y1="287.38" x2="44.00" y2="287.38" stroke="#222" stroke-width="0.7"/>
<line x1="41.00" y1="284.76" x2="44.00" y2="284.76" stroke="#222" stroke-width="0.7"/>
<line x1="41.00" y1="282.14" x2="44.00" y2="282.14" stroke="#222" stroke-width="0.7"/>
<line x1="41.00" y1="279.52" x2="44.00" y2="279.52" stroke="#222" stroke-width="0.7"/>
<line x1="39.40" y1="276.90" x2="44.00" y2="276.90" stroke="#222" stroke-width="0.85"/>
<line x1="41.00" y1="274.28" x2="44.00" y2="274.28" stroke="#222" stroke-width="0.7"/>
<line x1="41.00" y1="271.66" x2="44.00" y2="271.66" stroke="#222" stroke-width="0.7"/>
<line x1="41.00" y1="269.04" x2="44.00" y2="269.04" stroke="#222" stroke-width="0.7"/>
<line x1="41.00" y1="266.42" x2="44.00" y2="266.42" stroke="#222" stroke-width="0.7"/>
<line x1="39.40" y1="263.80" x2="44.00" y2="263.80" stroke="#222" stroke-width="0.85"/>
<line x1="41.00" y1="261.18" x2="44.00" y2="261.18" stroke="#222" stroke-width="0.7"/>
<line x1="41.00" y1="258.56" x2="44.00" y2="258.56" stroke="#222" stroke-width="0.7"/>
<line x1="45.00" y1="302.40" x2="45.00" y2="307.20" stroke="#222" stroke-width="0.9" stroke-opacity="1.0"/>
<line x1="47.20" y1="302.40" x2="47.20" y2="305.60" stroke="#222" stroke-width="0.7" stroke-opacity="1.0"/>
<line x1="49.40" y1="302.40" x2="49.40" y2="305.60" stroke="#222" stroke-width="0.7" stroke-opacity="1.0"/>
<line x1="51.60" y1="302.40" x2="51.60" y2="305.60" stroke="#222" stroke-width="0.7" stroke-opacity="1.0"/>
<line x1="53.80" y1="302.40" x2="53.80" y2="305.60" stroke="#222" stroke-width="0.7" stroke-opacity="1.0"/>
<line x1="56.00" y1="302.40" x2="56.00" y2="305.60" stroke="#222" stroke-width="0.7" stroke-opacity="1.0"/>
<line x1="58.20" y1="302.40" x2="58.20" y2="307.20" stroke="#222" stroke-width="0.9" stroke-opacity="1.0"/>
<line x1="60.40" y1="302.40" x2="60.40" y2="305.60" stroke="#222" stroke-width="0.7" stroke-opacity="1.0"/>
<line x1="62.60" y1="302.40" x2="62.60" y2="305.60" stroke="#222" stroke-width="0.7" stroke-opacity="1.0"/>
<line x1="64.80" y1="302.40" x2="64.80" y2="305.60" stroke="#222" stroke-width="0.7" stroke-opacity="1.0"/>
<line x1="67.00" y1="302.40" x2="67.00" y2="305.60" stroke="#222" stroke-width="0.7" stroke-opacity="1.0"/>
<line x1="69.20" y1="302.40" x2="69.20" y2="305.60" stroke="#222" stroke-width="0.7" stroke-opacity="1.0"/>
<line x1="71.40" y1="302.40" x2="71.40" y2="307.20" stroke="#222" stroke-width="0.9" stroke-opacity="1.0"/>
<line x1="73.60" y1="302.40" x2="73.60" y2="305.60" stroke="#222" stroke-width="0.7" stroke-opacity="1.0"/>
<line x1="75.80" y1="302.40" x2="75.80" y2="305.60" stroke="#222" stroke-width="0.7" stroke-opacity="1.0"/>
<line x1="78.00" y1="302.40" x2="78.00" y2="305.60" stroke="#222" stroke-width="0.7" stroke-opacity="1.0"/>
<line x1="80.20" y1="302.40" x2="80.20" y2="305.60" stroke="#222" stroke-width="0.7" stroke-opacity="1.0"/>
<line x1="82.40" y1="302.40" x2="82.40" y2="305.60" stroke="#222" stroke-width="0.7" stroke-opacity="1.0"/>
<line x1="84.60" y1="302.40" x2="84.60" y2="307.20" stroke="#222" stroke-width="0.9" stroke-opacity="1.0"/>
<line x1="86.80" y1="302.40" x2="86.80" y2="305.60" stroke="#222" stroke-width="0.7" stroke-opacity="1.0"/>
<line x1="89.00" y1="302.40" x2="89.00" y2="305.60" stroke="#222" stroke-width="0.7" stroke-opacity="1.0"/>
<line x1="91.20" y1="302.40" x2="91.20" y2="305.60" stroke="#222" stroke-width="0.7" stroke-opacity="1.0"/>
<line x1="93.40" y1="302.40" x2="93.40" y2="305.60" stroke="#222" stroke-width="0.7" stroke-opacity="1.0"/>
<rect x="44.00" y="256.60" width="51.30" height="45.80" fill="none" stroke="#222" stroke-width="0.85"/>
<circle cx="87.30" cy="260.20" r="0.5" fill="#888"/>
<path d="M52.60 262.20 C53.54 265.46 56.50 273.08 56.50 281.24 C56.50 287.22 54.55 289.40 52.60 289.40 C50.65 289.40 48.70 287.22 48.70 281.24 C48.70 273.08 51.66 265.46 52.60 262.20Z" fill="#000" fill-opacity="0.170" stroke="#1a1a1a" stroke-width="0.6"/><path d="M52.60 265.21 C53.38 267.91 55.84 274.24 55.84 281.01 C55.84 285.98 54.22 287.78 52.60 287.78 C50.98 287.78 49.36 285.98 49.36 281.01 C49.36 274.24 51.82 267.91 52.60 265.21Z" fill="#000" fill-opacity="0.170" stroke="#1a1a1a" stroke-width="0.6"/><path d="M52.60 268.21 C53.22 270.37 55.17 275.39 55.17 280.78 C55.17 284.73 53.89 286.16 52.60 286.16 C51.31 286.16 50.03 284.73 50.03 280.78 C50.03 275.39 51.98 270.37 52.60 268.21Z" fill="#000" fill-opacity="0.170" stroke="#1a1a1a" stroke-width="0.6"/><path d="M52.60 271.22 C53.06 272.82 54.51 276.55 54.51 280.55 C54.51 283.48 53.56 284.54 52.60 284.54 C51.64 284.54 50.69 283.48 50.69 280.55 C50.69 276.55 52.14 272.82 52.60 271.22Z" fill="#000" fill-opacity="0.170" stroke="#1a1a1a" stroke-width="0.6"/><path d="M52.60 274.22 C52.90 275.27 53.85 277.70 53.85 280.32 C53.85 282.23 53.22 282.93 52.60 282.93 C51.98 282.93 51.35 282.23 51.35 280.32 C51.35 277.70 52.30 275.27 52.60 274.22Z" fill="#000" fill-opacity="0.170" stroke="#1a1a1a" stroke-width="0.6"/>
<ellipse cx="83.20" cy="299.20" rx="7.30" ry="3.00" fill="#000" fill-opacity="0.08" stroke="#222" stroke-width="0.7"/><ellipse cx="84.22" cy="299.20" rx="4.82" ry="2.28" fill="#000" fill-opacity="0.3" stroke="#111" stroke-width="1.25"/><ellipse cx="83.93" cy="299.20" rx="2.19" ry="0.96" fill="none" stroke="#333" stroke-width="0.8"/>
<rect x="56.50" y="259.00" width="20.10" height="32.50" fill="none" stroke="#333" stroke-width="0.9"/>
<text transform="translate(66.65,267.50)" font-size="7.7" text-anchor="middle" fill="#1a1a1a" stroke="#1a1a1a" stroke-width="0.1" font-family="Liberation Sans, sans-serif">3.9%</text>
<text transform="translate(37.20,310.90) scale(1,1.1)" font-size="7.0" fill="#1a1a1a" stroke="#1a1a1a" stroke-width="0.22" font-family="Liberation Sans, sans-serif">M</text>
<line x1="104.20" y1="300.48" x2="107.20" y2="300.48" stroke="#222" stroke-width="0.7"/>
<line x1="104.20" y1="297.86" x2="107.20" y2="297.86" stroke="#222" stroke-width="0.7"/>
<line x1="104.20" y1="295.24" x2="107.20" y2="295.24" stroke="#222" stroke-width="0.7"/>
<line x1="104.20" y1="292.62" x2="107.20" y2="292.62" stroke="#222" stroke-width="0.7"/>
<line x1="102.60" y1="290.00" x2="107.20" y2="290.00" stroke="#222" stroke-width="0.85"/>
<line x1="104.20" y1="287.38" x2="107.20" y2="287.38" stroke="#222" stroke-width="0.7"/>
<line x1="104.20" y1="284.76" x2="107.20" y2="284.76" stroke="#222" stroke-width="0.7"/>
<line x1="104.20" y1="282.14" x2="107.20" y2="282.14" stroke="#222" stroke-width="0.7"/>
<line x1="104.20" y1="279.52" x2="107.20" y2="279.52" stroke="#222" stroke-width="0.7"/>
<line x1="102.60" y1="276.90" x2="107.20" y2="276.90" stroke="#222" stroke-width="0.85"/>
<line x1="104.20" y1="274.28" x2="107.20" y2="274.28" stroke="#222" stroke-width="0.7"/>
<line x1="104.20" y1="271.66" x2="107.20" y2="271.66" stroke="#222" stroke-width="0.7"/>
<line x1="104.20" y1="269.04" x2="107.20" y2="269.04" stroke="#222" stroke-width="0.7"/>
<line x1="104.20" y1="266.42" x2="107.20" y2="266.42" stroke="#222" stroke-width="0.7"/>
<line x1="102.60" y1="263.80" x2="107.20" y2="263.80" stroke="#222" stroke-width="0.85"/>
<line x1="104.20" y1="261.18" x2="107.20" y2="261.18" stroke="#222" stroke-width="0.7"/>
<line x1="104.20" y1="258.56" x2="107.20" y2="258.56" stroke="#222" stroke-width="0.7"/>
<line x1="108.20" y1="302.40" x2="108.20" y2="307.20" stroke="#222" stroke-width="0.9" stroke-opacity="1.0"/>
<line x1="110.40" y1="302.40" x2="110.40" y2="305.60" stroke="#222" stroke-width="0.7" stroke-opacity="1.0"/>
<line x1="112.60" y1="302.40" x2="112.60" y2="305.60" stroke="#222" stroke-width="0.7" stroke-opacity="1.0"/>
<line x1="114.80" y1="302.40" x2="114.80" y2="305.60" stroke="#222" stroke-width="0.7" stroke-opacity="1.0"/>
<line x1="117.00" y1="302.40" x2="117.00" y2="305.60" stroke="#222" stroke-width="0.7" stroke-opacity="1.0"/>
<line x1="119.20" y1="302.40" x2="119.20" y2="305.60" stroke="#222" stroke-width="0.7" stroke-opacity="1.0"/>
<line x1="121.40" y1="302.40" x2="121.40" y2="307.20" stroke="#222" stroke-width="0.9" stroke-opacity="1.0"/>
<line x1="123.60" y1="302.40" x2="123.60" y2="305.60" stroke="#222" stroke-width="0.7" stroke-opacity="1.0"/>
<line x1="125.80" y1="302.40" x2="125.80" y2="305.60" stroke="#222" stroke-width="0.7" stroke-opacity="1.0"/>
<line x1="128.00" y1="302.40" x2="128.00" y2="305.60" stroke="#222" stroke-width="0.7" stroke-opacity="1.0"/>
<line x1="130.20" y1="302.40" x2="130.20" y2="305.60" stroke="#222" stroke-width="0.7" stroke-opacity="1.0"/>
<line x1="132.40" y1="302.40" x2="132.40" y2="305.60" stroke="#222" stroke-width="0.7" stroke-opacity="1.0"/>
<line x1="134.60" y1="302.40" x2="134.60" y2="307.20" stroke="#222" stroke-width="0.9" stroke-opacity="1.0"/>
<line x1="136.80" y1="302.40" x2="136.80" y2="305.60" stroke="#222" stroke-width="0.7" stroke-opacity="1.0"/>
<line x1="139.00" y1="302.40" x2="139.00" y2="305.60" stroke="#222" stroke-width="0.7" stroke-opacity="1.0"/>
<line x1="141.20" y1="302.40" x2="141.20" y2="305.60" stroke="#222" stroke-width="0.7" stroke-opacity="1.0"/>
<line x1="143.40" y1="302.40" x2="143.40" y2="305.60" stroke="#222" stroke-width="0.7" stroke-opacity="1.0"/>
<line x1="145.60" y1="302.40" x2="145.60" y2="305.60" stroke="#222" stroke-width="0.7" stroke-opacity="1.0"/>
<line x1="147.80" y1="302.40" x2="147.80" y2="307.20" stroke="#222" stroke-width="0.9" stroke-opacity="1.0"/>
<line x1="150.00" y1="302.40" x2="150.00" y2="305.60" stroke="#222" stroke-width="0.7" stroke-opacity="1.0"/>
<line x1="152.20" y1="302.40" x2="152.20" y2="305.60" stroke="#222" stroke-width="0.7" stroke-opacity="1.0"/>
<line x1="154.40" y1="302.40" x2="154.40" y2="305.60" stroke="#222" stroke-width="0.7" stroke-opacity="1.0"/>
<line x1="156.60" y1="302.40" x2="156.60" y2="305.60" stroke="#222" stroke-width="0.7" stroke-opacity="1.0"/>
<rect x="107.20" y="256.60" width="51.30" height="45.80" fill="none" stroke="#222" stroke-width="0.85"/>
<circle cx="150.50" cy="260.20" r="0.5" fill="#888"/>
<path d="M116.40 261.20 C118.95 262.90 133.40 268.85 133.40 278.20 C133.40 285.62 126.58 288.80 121.00 288.80 C116.02 288.80 112.70 285.28 112.70 280.00 C112.70 270.60 114.55 263.46 116.40 261.20Z" fill="#000" fill-opacity="0.025" stroke="#1a1a1a" stroke-width="0.6"/><path d="M115.84 265.76 C117.88 267.12 129.44 271.88 129.44 279.36 C129.44 285.30 123.98 287.84 119.52 287.84 C115.54 287.84 112.88 285.02 112.88 280.80 C112.88 273.28 114.36 267.56 115.84 265.76Z" fill="#000" fill-opacity="0.025" stroke="#1a1a1a" stroke-width="0.6"/><path d="M115.28 270.32 C116.81 271.34 125.48 274.91 125.48 280.52 C125.48 284.97 121.39 286.88 118.04 286.88 C115.05 286.88 113.06 284.77 113.06 281.60 C113.06 275.96 114.17 271.67 115.28 270.32Z" fill="#000" fill-opacity="0.025" stroke="#1a1a1a" stroke-width="0.6"/><path d="M114.72 274.88 C115.74 275.56 121.52 277.94 121.52 281.68 C121.52 284.65 118.79 285.92 116.56 285.92 C114.57 285.92 113.24 284.51 113.24 282.40 C113.24 278.64 113.98 275.78 114.72 274.88Z" fill="#000" fill-opacity="0.025" stroke="#1a1a1a" stroke-width="0.6"/>
<path d="M115.60 270.00 C116.86 271.80 118.60 278.00 118.60 284.00 C118.60 288.40 117.10 290.00 115.60 290.00 C114.10 290.00 112.60 288.40 112.60 284.00 C112.60 278.00 114.34 271.80 115.60 270.00Z" fill="#000" fill-opacity="0.200" stroke="#1a1a1a" stroke-width="0.6"/><path d="M115.60 273.68 C116.50 274.97 117.75 279.42 117.75 283.72 C117.75 286.87 116.67 288.02 115.60 288.02 C114.52 288.02 113.45 286.87 113.45 283.72 C113.45 279.42 114.70 274.97 115.60 273.68Z" fill="#000" fill-opacity="0.200" stroke="#1a1a1a" stroke-width="0.6"/><path d="M115.60 277.37 C116.15 278.15 116.90 280.83 116.90 283.43 C116.90 285.34 116.25 286.03 115.60 286.03 C114.95 286.03 114.30 285.34 114.30 283.43 C114.30 280.83 115.05 278.15 115.60 277.37Z" fill="#000" fill-opacity="0.200" stroke="#1a1a1a" stroke-width="0.6"/>
<ellipse cx="146.50" cy="298.80" rx="7.80" ry="3.30" fill="#000" fill-opacity="0.08" stroke="#222" stroke-width="0.7"/><ellipse cx="147.59" cy="298.80" rx="5.15" ry="2.51" fill="#000" fill-opacity="0.3" stroke="#111" stroke-width="1.25"/><ellipse cx="147.28" cy="298.80" rx="2.34" ry="1.06" fill="none" stroke="#333" stroke-width="0.8"/>
<rect x="119.40" y="259.00" width="20.10" height="31.50" fill="none" stroke="#333" stroke-width="0.9"/>
<text transform="translate(129.55,267.50)" font-size="7.7" text-anchor="middle" fill="#1a1a1a" stroke="#1a1a1a" stroke-width="0.1" font-family="Liberation Sans, sans-serif">44.6%</text>
<text transform="translate(100.40,310.90) scale(1,1.1)" font-size="7.0" fill="#1a1a1a" stroke="#1a1a1a" stroke-width="0.22" font-family="Liberation Sans, sans-serif">M</text>
<rect x="251.20" y="134.00" width="15.55" height="9.20" fill="#bd0e36"/>
<rect x="251.45" y="134.25" width="15.05" height="9.20" fill="none" stroke="#880a26" stroke-width="0.5"/>
<rect x="266.70" y="135.50" width="15.55" height="7.70" fill="#2e5a96"/>
<rect x="266.95" y="135.75" width="15.05" height="7.70" fill="none" stroke="#21406c" stroke-width="0.5"/>
<rect x="282.20" y="84.00" width="15.55" height="59.20" fill="#6aab3e"/>
<rect x="282.45" y="84.25" width="15.05" height="59.20" fill="none" stroke="#4c7b2c" stroke-width="0.5"/>
<rect x="297.70" y="79.20" width="15.55" height="64.00" fill="#5a2474"/>
<rect x="297.95" y="79.45" width="15.05" height="64.00" fill="none" stroke="#401953" stroke-width="0.5"/>
<rect x="313.20" y="113.30" width="15.55" height="29.90" fill="#ea991c"/>
<rect x="313.45" y="113.55" width="15.05" height="29.90" fill="none" stroke="#a86e14" stroke-width="0.5"/>
<rect x="328.70" y="90.80" width="15.55" height="52.40" fill="#336c52"/>
<rect x="328.95" y="91.05" width="15.05" height="52.40" fill="none" stroke="#244d3b" stroke-width="0.5"/>
<rect x="258.30" y="125.20" width="1.3" height="8.80" fill="#1c1c1c"/>
<path d="M256.85 124.45 H261.05 V125.30 L259.60 126.30 H258.30 L256.85 125.30 Z" fill="#1c1c1c"/>
<rect x="273.80" y="125.60" width="1.3" height="9.90" fill="#1c1c1c"/>
<path d="M272.35 124.85 H276.55 V125.70 L275.10 126.70 H273.80 L272.35 125.70 Z" fill="#1c1c1c"/>
<rect x="289.30" y="61.60" width="1.3" height="22.40" fill="#1c1c1c"/>
<path d="M287.85 60.85 H292.05 V61.70 L290.60 62.70 H289.30 L287.85 61.70 Z" fill="#1c1c1c"/>
<circle cx="288.05" cy="55.70" r="1.3" fill="#151515"/>
<circle cx="291.85" cy="55.70" r="1.3" fill="#151515"/>
<rect x="304.80" y="64.20" width="1.3" height="15.00" fill="#1c1c1c"/>
<path d="M303.35 63.45 H307.55 V64.30 L306.10 65.30 H304.80 L303.35 64.30 Z" fill="#1c1c1c"/>
<circle cx="303.55" cy="58.60" r="1.3" fill="#151515"/>
<circle cx="307.35" cy="58.60" r="1.3" fill="#151515"/>
<rect x="320.30" y="99.50" width="1.3" height="13.80" fill="#1c1c1c"/>
<path d="M318.85 98.75 H323.05 V99.60 L321.60 100.60 H320.30 L318.85 99.60 Z" fill="#1c1c1c"/>
<circle cx="320.95" cy="94.10" r="1.3" fill="#151515"/>
<rect x="335.80" y="75.30" width="1.3" height="15.50" fill="#1c1c1c"/>
<path d="M334.35 74.55 H338.55 V75.40 L337.10 76.40 H335.80 L334.35 75.40 Z" fill="#1c1c1c"/>
<circle cx="334.55" cy="70.00" r="1.3" fill="#151515"/>
<circle cx="338.35" cy="70.00" r="1.3" fill="#151515"/>
<rect x="360.20" y="120.80" width="15.55" height="22.40" fill="#bd0e36"/>
<rect x="360.45" y="121.05" width="15.05" height="22.40" fill="none" stroke="#880a26" stroke-width="0.5"/>
<rect x="375.70" y="121.10" width="15.55" height="22.10" fill="#2e5a96"/>
<rect x="375.95" y="121.35" width="15.05" height="22.10" fill="none" stroke="#21406c" stroke-width="0.5"/>
<rect x="391.20" y="64.00" width="15.55" height="79.20" fill="#6aab3e"/>
<rect x="391.45" y="64.25" width="15.05" height="79.20" fill="none" stroke="#4c7b2c" stroke-width="0.5"/>
<rect x="406.70" y="60.20" width="15.55" height="83.00" fill="#5a2474"/>
<rect x="406.95" y="60.45" width="15.05" height="83.00" fill="none" stroke="#401953" stroke-width="0.5"/>
<rect x="422.20" y="74.40" width="15.55" height="68.80" fill="#ea991c"/>
<rect x="422.45" y="74.65" width="15.05" height="68.80" fill="none" stroke="#a86e14" stroke-width="0.5"/>
<rect x="437.70" y="62.30" width="15.55" height="80.90" fill="#336c52"/>
<rect x="437.95" y="62.55" width="15.05" height="80.90" fill="none" stroke="#244d3b" stroke-width="0.5"/>
<rect x="367.30" y="102.60" width="1.3" height="18.20" fill="#1c1c1c"/>
<path d="M365.85 101.85 H370.05 V102.70 L368.60 103.70 H367.30 L365.85 102.70 Z" fill="#1c1c1c"/>
<rect x="382.80" y="102.60" width="1.3" height="18.50" fill="#1c1c1c"/>
<path d="M381.35 101.85 H385.55 V102.70 L384.10 103.70 H382.80 L381.35 102.70 Z" fill="#1c1c1c"/>
<rect x="398.30" y="46.40" width="1.3" height="17.60" fill="#1c1c1c"/>
<path d="M396.85 45.65 H401.05 V46.50 L399.60 47.50 H398.30 L396.85 46.50 Z" fill="#1c1c1c"/>
<circle cx="397.05" cy="40.70" r="1.3" fill="#151515"/>
<circle cx="400.85" cy="40.70" r="1.3" fill="#151515"/>
<rect x="413.80" y="48.50" width="1.3" height="11.70" fill="#1c1c1c"/>
<path d="M412.35 47.75 H416.55 V48.60 L415.10 49.60 H413.80 L412.35 48.60 Z" fill="#1c1c1c"/>
<circle cx="412.55" cy="43.00" r="1.3" fill="#151515"/>
<circle cx="416.35" cy="43.00" r="1.3" fill="#151515"/>
<rect x="429.30" y="54.50" width="1.3" height="19.90" fill="#1c1c1c"/>
<path d="M427.85 53.75 H432.05 V54.60 L430.60 55.60 H429.30 L427.85 54.60 Z" fill="#1c1c1c"/>
<circle cx="428.05" cy="48.70" r="1.3" fill="#151515"/>
<circle cx="431.85" cy="48.70" r="1.3" fill="#151515"/>
<rect x="444.80" y="49.90" width="1.3" height="12.40" fill="#1c1c1c"/>
<path d="M443.35 49.15 H447.55 V50.00 L446.10 51.00 H444.80 L443.35 50.00 Z" fill="#1c1c1c"/>
<circle cx="443.55" cy="44.20" r="1.3" fill="#151515"/>
<circle cx="447.35" cy="44.20" r="1.3" fill="#151515"/>
<rect x="243.05" y="17.60" width="1.15" height="126.20" fill="#000"/>
<rect x="240" y="142.60" width="220.80" height="1.3" fill="#000"/>
<rect x="240" y="142.60" width="3.60" height="1.2" fill="#000"/>
<text transform="translate(237.20,146.00) scale(1,1.17)" font-size="8.3" text-anchor="end" fill="#1a1a1a" stroke="#1a1a1a" stroke-width="0.22" font-family="Liberation Sans, sans-serif">0</text>
<rect x="240" y="122.25" width="3.60" height="1.2" fill="#000"/>
<text transform="translate(237.20,125.65) scale(1,1.17)" font-size="8.3" text-anchor="end" fill="#1a1a1a" stroke="#1a1a1a" stroke-width="0.22" font-family="Liberation Sans, sans-serif">20</text>
<rect x="240" y="101.90" width="3.60" height="1.2" fill="#000"/>
<text transform="translate(237.20,105.30) scale(1,1.17)" font-size="8.3" text-anchor="end" fill="#1a1a1a" stroke="#1a1a1a" stroke-width="0.22" font-family="Liberation Sans, sans-serif">40</text>
<rect x="240" y="81.55" width="3.60" height="1.2" fill="#000"/>
<text transform="translate(237.20,84.95) scale(1,1.17)" font-size="8.3" text-anchor="end" fill="#1a1a1a" stroke="#1a1a1a" stroke-width="0.22" font-family="Liberation Sans, sans-serif">60</text>
<rect x="240" y="61.20" width="3.60" height="1.2" fill="#000"/>
<text transform="translate(237.20,64.60) scale(1,1.17)" font-size="8.3" text-anchor="end" fill="#1a1a1a" stroke="#1a1a1a" stroke-width="0.22" font-family="Liberation Sans, sans-serif">80</text>
<rect x="240" y="40.85" width="3.60" height="1.2" fill="#000"/>
<text transform="translate(237.20,44.25) scale(1,1.17)" font-size="8.3" text-anchor="end" fill="#1a1a1a" stroke="#1a1a1a" stroke-width="0.22" font-family="Liberation Sans, sans-serif">100</text>
<rect x="240" y="20.50" width="3.60" height="1.2" fill="#000"/>
<text transform="translate(237.20,23.90) scale(1,1.17)" font-size="8.3" text-anchor="end" fill="#1a1a1a" stroke="#1a1a1a" stroke-width="0.22" font-family="Liberation Sans, sans-serif">120</text>
<text transform="translate(212.80,79.70) rotate(-90) scale(1,1.17)" font-size="9" text-anchor="middle" fill="#1a1a1a" stroke="#1a1a1a" stroke-width="0.22" font-family="Liberation Sans, sans-serif">Trogocytosis by PMN (%)</text>
<text transform="translate(249.60,31.00) scale(1,1.03)" font-size="7.8" fill="#1a1a1a" stroke="#1a1a1a" stroke-width="0.22" font-family="Liberation Sans, sans-serif">N=5</text>
<text transform="translate(197.30,17.30) scale(1,1.12)" font-size="11.6" font-weight="bold" fill="#000" font-family="Liberation Sans, sans-serif">B</text>
<text transform="translate(297.70,153.80) scale(1,1.12)" font-size="8.2" text-anchor="middle" fill="#1a1a1a" stroke="#1a1a1a" stroke-width="0.22" font-family="Liberation Sans, sans-serif">3H</text>
<text transform="translate(406.70,153.80) scale(1,1.12)" font-size="8.2" text-anchor="middle" fill="#1a1a1a" stroke="#1a1a1a" stroke-width="0.22" font-family="Liberation Sans, sans-serif">20H</text>
<path d="M290.4 45.2 V40.6 H320 V74.4" fill="none" stroke="#1a1a1a" stroke-width="1.1"/>
<path d="M303 31 V26.9 H336.2 V62.2" fill="none" stroke="#1a1a1a" stroke-width="1.1"/>
<circle cx="305.50" cy="34.80" r="1.3" fill="#151515"/>
<circle cx="319.60" cy="20.80" r="1.3" fill="#151515"/>
<rect x="251.10" y="311.30" width="15.83" height="12.70" fill="#bd0e36"/>
<rect x="251.35" y="311.55" width="15.33" height="12.70" fill="none" stroke="#880a26" stroke-width="0.5"/>
<rect x="266.88" y="312.40" width="15.83" height="11.60" fill="#2e5a96"/>
<rect x="267.13" y="312.65" width="15.33" height="11.60" fill="none" stroke="#21406c" stroke-width="0.5"/>
<rect x="282.66" y="288.80" width="15.83" height="35.20" fill="#6aab3e"/>
<rect x="282.91" y="289.05" width="15.33" height="35.20" fill="none" stroke="#4c7b2c" stroke-width="0.5"/>
<rect x="298.44" y="286.20" width="15.83" height="37.80" fill="#5a2474"/>
<rect x="298.69" y="286.45" width="15.33" height="37.80" fill="none" stroke="#401953" stroke-width="0.5"/>
<rect x="314.22" y="302.80" width="15.83" height="21.20" fill="#ea991c"/>
<rect x="314.47" y="303.05" width="15.33" height="21.20" fill="none" stroke="#a86e14" stroke-width="0.5"/>
<rect x="330.00" y="296.50" width="15.83" height="27.50" fill="#336c52"/>
<rect x="330.25" y="296.75" width="15.33" height="27.50" fill="none" stroke="#244d3b" stroke-width="0.5"/>
<rect x="258.34" y="304.30" width="1.3" height="7.00" fill="#1c1c1c"/>
<path d="M256.89 303.55 H261.09 V304.40 L259.64 305.40 H258.34 L256.89 304.40 Z" fill="#1c1c1c"/>
<rect x="274.12" y="305.90" width="1.3" height="6.50" fill="#1c1c1c"/>
<path d="M272.67 305.15 H276.87 V306.00 L275.42 307.00 H274.12 L272.67 306.00 Z" fill="#1c1c1c"/>
<rect x="289.90" y="262.80" width="1.3" height="26.00" fill="#1c1c1c"/>
<path d="M288.45 262.05 H292.65 V262.90 L291.20 263.90 H289.90 L288.45 262.90 Z" fill="#1c1c1c"/>
<circle cx="290.55" cy="257.50" r="1.3" fill="#151515"/>
<rect x="305.68" y="262.80" width="1.3" height="23.40" fill="#1c1c1c"/>
<path d="M304.23 262.05 H308.43 V262.90 L306.98 263.90 H305.68 L304.23 262.90 Z" fill="#1c1c1c"/>
<circle cx="304.43" cy="257.50" r="1.3" fill="#151515"/>
<circle cx="308.23" cy="257.50" r="1.3" fill="#151515"/>
<rect x="321.46" y="294.00" width="1.3" height="8.80" fill="#1c1c1c"/>
<path d="M320.01 293.25 H324.21 V294.10 L322.76 295.10 H321.46 L320.01 294.10 Z" fill="#1c1c1c"/>
<circle cx="322.11" cy="288.20" r="1.3" fill="#151515"/>
<rect x="337.24" y="288.80" width="1.3" height="7.70" fill="#1c1c1c"/>
<path d="M335.79 288.05 H339.99 V288.90 L338.54 289.90 H337.24 L335.79 288.90 Z" fill="#1c1c1c"/>
<circle cx="335.99" cy="283.00" r="1.3" fill="#151515"/>
<circle cx="339.79" cy="283.00" r="1.3" fill="#151515"/>
<rect x="361.70" y="296.20" width="15.83" height="27.80" fill="#bd0e36"/>
<rect x="361.95" y="296.45" width="15.33" height="27.80" fill="none" stroke="#880a26" stroke-width="0.5"/>
<rect x="377.48" y="297.30" width="15.83" height="26.70" fill="#2e5a96"/>
<rect x="377.73" y="297.55" width="15.33" height="26.70" fill="none" stroke="#21406c" stroke-width="0.5"/>
<rect x="393.26" y="258.40" width="15.83" height="65.60" fill="#6aab3e"/>
<rect x="393.51" y="258.65" width="15.33" height="65.60" fill="none" stroke="#4c7b2c" stroke-width="0.5"/>
<rect x="409.04" y="248.50" width="15.83" height="75.50" fill="#5a2474"/>
<rect x="409.29" y="248.75" width="15.33" height="75.50" fill="none" stroke="#401953" stroke-width="0.5"/>
<rect x="424.82" y="283.10" width="15.83" height="40.90" fill="#ea991c"/>
<rect x="425.07" y="283.35" width="15.33" height="40.90" fill="none" stroke="#a86e14" stroke-width="0.5"/>
<rect x="440.60" y="273.00" width="15.83" height="51.00" fill="#336c52"/>
<rect x="440.85" y="273.25" width="15.33" height="51.00" fill="none" stroke="#244d3b" stroke-width="0.5"/>
<rect x="368.94" y="284.30" width="1.3" height="11.90" fill="#1c1c1c"/>
<path d="M367.49 283.55 H371.69 V284.40 L370.24 285.40 H368.94 L367.49 284.40 Z" fill="#1c1c1c"/>
<rect x="384.72" y="286.50" width="1.3" height="10.80" fill="#1c1c1c"/>
<path d="M383.27 285.75 H387.47 V286.60 L386.02 287.60 H384.72 L383.27 286.60 Z" fill="#1c1c1c"/>
<rect x="400.50" y="206.60" width="1.3" height="51.80" fill="#1c1c1c"/>
<path d="M399.05 205.85 H403.25 V206.70 L401.80 207.70 H400.50 L399.05 206.70 Z" fill="#1c1c1c"/>
<circle cx="401.15" cy="201.00" r="1.3" fill="#151515"/>
<rect x="416.28" y="194.40" width="1.3" height="54.10" fill="#1c1c1c"/>
<path d="M414.83 193.65 H419.03 V194.50 L417.58 195.50 H416.28 L414.83 194.50 Z" fill="#1c1c1c"/>
<circle cx="416.93" cy="188.30" r="1.3" fill="#151515"/>
<rect x="432.06" y="266.00" width="1.3" height="17.10" fill="#1c1c1c"/>
<path d="M430.61 265.25 H434.81 V266.10 L433.36 267.10 H432.06 L430.61 266.10 Z" fill="#1c1c1c"/>
<circle cx="432.71" cy="260.50" r="1.3" fill="#151515"/>
<rect x="447.84" y="258.00" width="1.3" height="15.00" fill="#1c1c1c"/>
<path d="M446.39 257.25 H450.59 V258.10 L449.14 259.10 H447.84 L446.39 258.10 Z" fill="#1c1c1c"/>
<circle cx="446.59" cy="252.20" r="1.3" fill="#151515"/>
<circle cx="450.39" cy="252.20" r="1.3" fill="#151515"/>
<rect x="243.05" y="182.40" width="1.15" height="145.10" fill="#000"/>
<rect x="240" y="323.40" width="227.60" height="1.3" fill="#000"/>
<rect x="353.05" y="324.00" width="1.1" height="3.5" fill="#000"/>
<rect x="463.65" y="324.00" width="1.1" height="3.5" fill="#000"/>
<rect x="240" y="323.40" width="3.60" height="1.2" fill="#000"/>
<text transform="translate(237.20,326.80) scale(1,1.17)" font-size="8.3" text-anchor="end" fill="#1a1a1a" stroke="#1a1a1a" stroke-width="0.22" font-family="Liberation Sans, sans-serif">0</text>
<rect x="240" y="300.40" width="3.60" height="1.2" fill="#000"/>
<text transform="translate(237.20,303.80) scale(1,1.17)" font-size="8.3" text-anchor="end" fill="#1a1a1a" stroke="#1a1a1a" stroke-width="0.22" font-family="Liberation Sans, sans-serif">300</text>
<rect x="240" y="277.40" width="3.60" height="1.2" fill="#000"/>
<text transform="translate(237.20,280.80) scale(1,1.17)" font-size="8.3" text-anchor="end" fill="#1a1a1a" stroke="#1a1a1a" stroke-width="0.22" font-family="Liberation Sans, sans-serif">600</text>
<rect x="240" y="254.40" width="3.60" height="1.2" fill="#000"/>
<text transform="translate(237.20,257.80) scale(1,1.17)" font-size="8.3" text-anchor="end" fill="#1a1a1a" stroke="#1a1a1a" stroke-width="0.22" font-family="Liberation Sans, sans-serif">900</text>
<rect x="240" y="231.40" width="3.60" height="1.2" fill="#000"/>
<text transform="translate(237.20,234.80) scale(1,1.17)" font-size="8.3" text-anchor="end" fill="#1a1a1a" stroke="#1a1a1a" stroke-width="0.22" font-family="Liberation Sans, sans-serif">1200</text>
<rect x="240" y="208.40" width="3.60" height="1.2" fill="#000"/>
<text transform="translate(237.20,211.80) scale(1,1.17)" font-size="8.3" text-anchor="end" fill="#1a1a1a" stroke="#1a1a1a" stroke-width="0.22" font-family="Liberation Sans, sans-serif">1500</text>
<rect x="240" y="185.40" width="3.60" height="1.2" fill="#000"/>
<text transform="translate(237.20,188.80) scale(1,1.17)" font-size="8.3" text-anchor="end" fill="#1a1a1a" stroke="#1a1a1a" stroke-width="0.22" font-family="Liberation Sans, sans-serif">1800</text>
<text transform="translate(212.80,252.70) rotate(-90) scale(1,1.17)" font-size="9" text-anchor="middle" fill="#1a1a1a" stroke="#1a1a1a" stroke-width="0.22" font-family="Liberation Sans, sans-serif">Trogocytosis by PMN (MFI)</text>
<text transform="translate(249.60,196.00) scale(1,1.03)" font-size="7.8" fill="#1a1a1a" stroke="#1a1a1a" stroke-width="0.22" font-family="Liberation Sans, sans-serif">N=5</text>
<text transform="translate(197.30,182.10) scale(1,1.12)" font-size="11.6" font-weight="bold" fill="#000" font-family="Liberation Sans, sans-serif">C</text>
<text transform="translate(298.44,337.80) scale(1,1.12)" font-size="8.2" text-anchor="middle" fill="#1a1a1a" stroke="#1a1a1a" stroke-width="0.22" font-family="Liberation Sans, sans-serif">3H</text>
<text transform="translate(409.04,337.80) scale(1,1.12)" font-size="8.2" text-anchor="middle" fill="#1a1a1a" stroke="#1a1a1a" stroke-width="0.22" font-family="Liberation Sans, sans-serif">20H</text>
<rect x="473.6" y="141.60" width="5" height="5" fill="#8c1a30"/>
<text transform="translate(481.70,146.70)" font-size="8.1" fill="#1a1a1a" stroke="#1a1a1a" stroke-width="0.22" font-family="Liberation Sans, sans-serif">No MAb</text>
<rect x="473.6" y="153.20" width="5" height="5" fill="#1e4c5e"/>
<text transform="translate(481.70,158.30)" font-size="8.1" fill="#1a1a1a" stroke="#1a1a1a" stroke-width="0.22" font-family="Liberation Sans, sans-serif">CET</text>
<rect x="473.6" y="165.10" width="5" height="5" fill="#6f9c5c"/>
<text transform="translate(481.70,170.20)" font-size="8.1" fill="#1a1a1a" stroke="#1a1a1a" stroke-width="0.22" font-family="Liberation Sans, sans-serif">RTX-WT</text>
<rect x="473.6" y="176.80" width="5" height="5" fill="#3e2468"/>
<text transform="translate(481.70,181.90)" font-size="8.1" fill="#1a1a1a" stroke="#1a1a1a" stroke-width="0.22" font-family="Liberation Sans, sans-serif">RTX-GE</text>
<rect x="473.6" y="188.50" width="5" height="5" fill="#d29c3c"/>
<text transform="translate(481.70,193.60)" font-size="8.1" fill="#1a1a1a" stroke="#1a1a1a" stroke-width="0.22" font-family="Liberation Sans, sans-serif">OBZ-WT</text>
<rect x="473.6" y="200.20" width="5" height="5" fill="#3a5c4a"/>
<text transform="translate(481.70,205.30)" font-size="8.1" fill="#1a1a1a" stroke="#1a1a1a" stroke-width="0.22" font-family="Liberation Sans, sans-serif">OBZ-GE</text>
</svg>
</body></html>
